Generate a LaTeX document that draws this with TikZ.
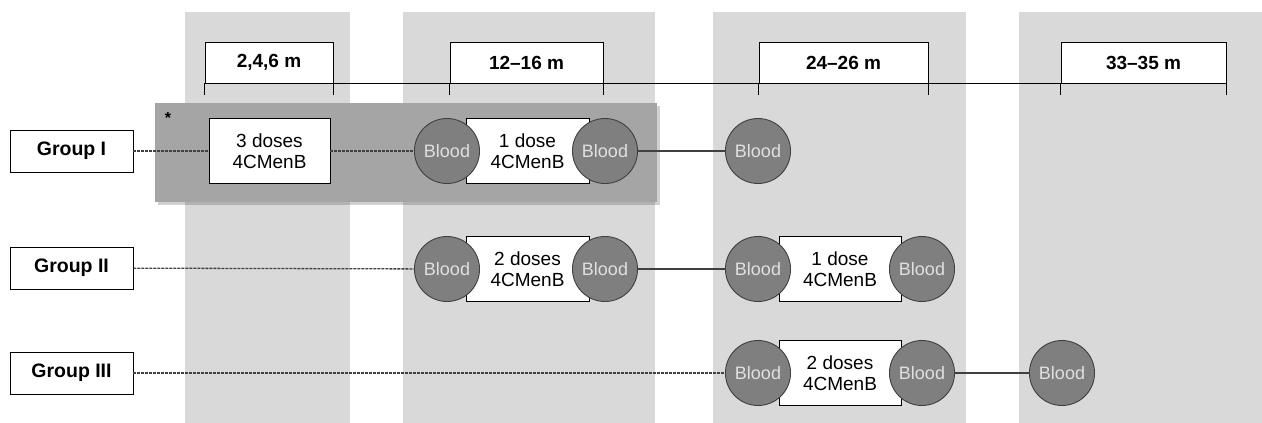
\documentclass[tikz,border=0pt]{standalone}
\usepackage{fontspec}
\setmainfont{Liberation Sans}
\usetikzlibrary{positioning,shapes.geometric}
\definecolor{colgray}{HTML}{D9D9D9}
\definecolor{grpgray}{HTML}{A5A5A5}
\definecolor{bloodgray}{HTML}{7F7F7F}
\definecolor{linegray}{HTML}{404040}

\begin{document}
\begin{tikzpicture}[x=1pt, y=-1pt,
    period/.style={draw, fill=white, line width=0.9pt, minimum height=41pt, inner sep=0pt, font=\fontsize{19}{22}\selectfont\bfseries},
    group/.style={draw, fill=white, line width=0.9pt, minimum width=123pt, minimum height=42pt, inner sep=0pt, font=\fontsize{19.5}{22}\selectfont\bfseries},
    dose/.style={draw, fill=white, line width=0.9pt, minimum width=122pt, minimum height=65pt, inner sep=0pt, align=center, font=\fontsize{19}{21.5}\selectfont},
    blood/.style={ellipse, draw=linegray, fill=bloodgray, line width=0.9pt, minimum width=57pt, minimum height=65pt, inner sep=0pt, text=white!88!black, font=\fontsize{18}{20}\selectfont},
    later/.style={draw=linegray, dash pattern=on 3pt off 1pt, line width=1.3pt},
    visit/.style={draw=linegray, line width=1.2pt}]
    \useasboundingbox (0,0) rectangle (1262,423);

    % columns behind the time points
    \fill[colgray] (185,12) rectangle (350,423);
    \fill[colgray] (403,12) rectangle (655,423);
    \fill[colgray] (713,12) rectangle (966,423);
    \fill[colgray] (1019,12) rectangle (1262,423);

    % highlighted group
    \fill[black, opacity=0.18] (158,106) rectangle (660,205);
    \fill[grpgray] (155,103) rectangle (657,202);
    \node[font=\fontsize{16}{16}\selectfont\bfseries] (star) at (168,118) {*};

    % time line
    \node[period, minimum width=128pt] (p1) at (269,62.5) {2,4,6 m};
    \node[period, minimum width=153pt] (p2) at (526.5,62.5) {12--16 m};
    \node[period, minimum width=169pt] (p3) at (843.5,62.5) {24--26 m};
    \node[period, minimum width=165pt] (p4) at (1143.5,62.5) {33--35 m};
    \draw[line width=1.1pt] (p1.south west) -- (p4.south east);
    \foreach \p in {p1,p2,p3,p4} {
        \draw[line width=0.9pt] (\p.south west) -- ++(0,12);
        \draw[line width=0.9pt] (\p.south east) -- ++(0,12);
    }

    % groups
    \node[group] (g1) at (71.5,151) {Group I};
    \node[group] (g2) at (71.5,268) {Group II};
    \node[group] (g3) at (71.5,373) {Group III};

    % group I
    \node[dose, minimum width=121pt] (d11) at (269.5,151) {3 doses\\4CMenB};
    \node[dose, minimum width=123pt] (d12) at (527.5,151) {1 dose\\4CMenB};
    \node[blood] (b11) at (447,151) {Blood};
    \node[blood] (b12) at (605,151) {Blood};
    \node[blood] (b13) at (758,151) {Blood};

    % group II
    \node[dose, minimum width=123pt] (d21) at (527.5,269) {2 doses\\4CMenB};
    \node[dose] (d22) at (840,269) {1 dose\\4CMenB};
    \node[blood] (b21) at (447,269) {Blood};
    \node[blood] (b22) at (605,269) {Blood};
    \node[blood] (b23) at (758,269) {Blood};
    \node[blood] (b24) at (922,269) {Blood};

    % group III
    \node[dose] (d31) at (840,373) {2 doses\\4CMenB};
    \node[blood] (b31) at (758,373) {Blood};
    \node[blood] (b32) at (922,373) {Blood};
    \node[blood] (b33) at (1062,373) {Blood};

    \path
        (g1) edge[later] (d11)
        (d11) edge[later] (b11)
        (b12) edge[visit] (b13)
        (g2) edge[later] (b21)
        (b22) edge[visit] (b23)
        (g3) edge[later] (b31)
        (b32) edge[visit] (b33)
        ;
\end{tikzpicture}
\end{document}
